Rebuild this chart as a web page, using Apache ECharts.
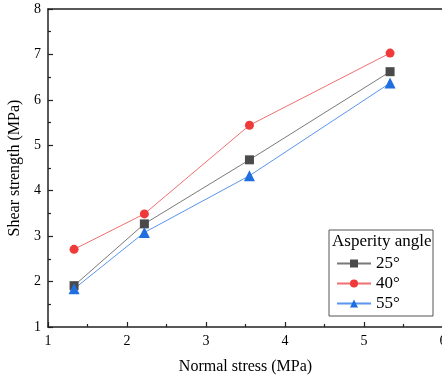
<!DOCTYPE html>
<html>
<head>
<meta charset="utf-8">
<script src="https://cdn.jsdelivr.net/npm/echarts@6/dist/echarts.min.js"></script>
<style>
  html, body { margin: 0; padding: 0; background: #fff; }
  #main { width: 442px; height: 378px; }
</style>
</head>
<body>
<div id="main"></div>
<script>
// normal stress (MPa)
const stress = [1.33, 2.22, 3.55, 5.33]
// shear strength (MPa) per asperity angle
const shear25 = [1.91, 3.27, 4.68, 6.62]
const shear40 = [2.71, 3.49, 5.44, 7.03]
const shear55 = [1.84, 3.08, 4.33, 6.37]
const names = ['25°', '40°', '55°']

const font = 'Liberation Serif'
const myChart = echarts.init(document.getElementById('main'))

function pairs (ys) {
  return stress.map((x, i) => [x, ys[i]])
}

const axisCommon = {
  axisLine: { lineStyle: { color: '#222', width: 1.5 } },
  axisTick: { inside: true, length: 5, lineStyle: { color: '#222', width: 1.2 } },
  minorTick: { show: true, splitNumber: 2, length: 3, lineStyle: { color: '#222', width: 1.2 } },
  splitLine: { show: false }
}

const option = {
  backgroundColor: '#fff',
  animation: false,
  grid: { left: 48, top: 9, width: 395, height: 318, outerBoundsMode: 'none', containLabel: false },
  xAxis: [
    Object.assign({
      type: 'value',
      min: 1,
      max: 6,
      interval: 1,
      name: 'Normal stress (MPa)',
      nameLocation: 'middle',
      nameGap: 32,
      nameTextStyle: { fontFamily: font, fontSize: 16, color: '#000' },
      axisLabel: { fontFamily: font, fontSize: 14, color: '#000', margin: 7 }
    }, axisCommon),
    {
      type: 'value', position: 'top', min: 1, max: 6,
      axisLine: { lineStyle: { color: '#222', width: 1.5 } },
      axisTick: { show: false }, axisLabel: { show: false }, splitLine: { show: false }
    }
  ],
  yAxis: [
    Object.assign({
      type: 'value',
      min: 1,
      max: 8,
      interval: 1,
      name: 'Shear strength (MPa)',
      nameLocation: 'middle',
      nameGap: 20,
      nameTextStyle: { fontFamily: font, fontSize: 16, color: '#000' },
      axisLabel: { fontFamily: font, fontSize: 14, color: '#000', margin: 7 }
    }, axisCommon),
    {
      type: 'value', position: 'right', min: 1, max: 8,
      axisLine: { lineStyle: { color: '#222', width: 1.5 } },
      axisTick: { show: false }, axisLabel: { show: false }, splitLine: { show: false }
    }
  ],
  legend: {
    orient: 'vertical',
    left: 331,
    top: 250,
    itemWidth: 34,
    itemHeight: 10,
    itemGap: 3,
    data: names,
    textStyle: { fontFamily: font, fontSize: 17, color: '#000', lineHeight: 17 }
  },
  graphic: [
    {
      type: 'rect',
      shape: { x: 329, y: 230, width: 104, height: 86 },
      style: { fill: '#fff', stroke: '#555', lineWidth: 1 },
      z: 0
    },
    {
      type: 'text',
      left: 332,
      top: 233,
      style: { text: 'Asperity angle', font: '17px "Liberation Serif"', fill: '#000' },
      z: 1
    }
  ],
  series: [
    {
      name: names[0],
      type: 'line',
      data: pairs(shear25),
      symbol: 'rect',
      symbolSize: 9,
      itemStyle: { color: '#4a4a4a' },
      lineStyle: { color: '#7a7a7a', width: 1 }
    },
    {
      name: names[1],
      type: 'line',
      data: pairs(shear40),
      symbol: 'circle',
      symbolSize: 9,
      itemStyle: { color: '#f03a3a' },
      lineStyle: { color: '#f07070', width: 1 }
    },
    {
      name: names[2],
      type: 'line',
      data: pairs(shear55),
      symbol: 'triangle',
      symbolSize: 11,
      itemStyle: { color: '#1f6fe0' },
      lineStyle: { color: '#5a95ee', width: 1 }
    }
  ]
}
myChart.setOption(option)
</script>
</body>
</html>
